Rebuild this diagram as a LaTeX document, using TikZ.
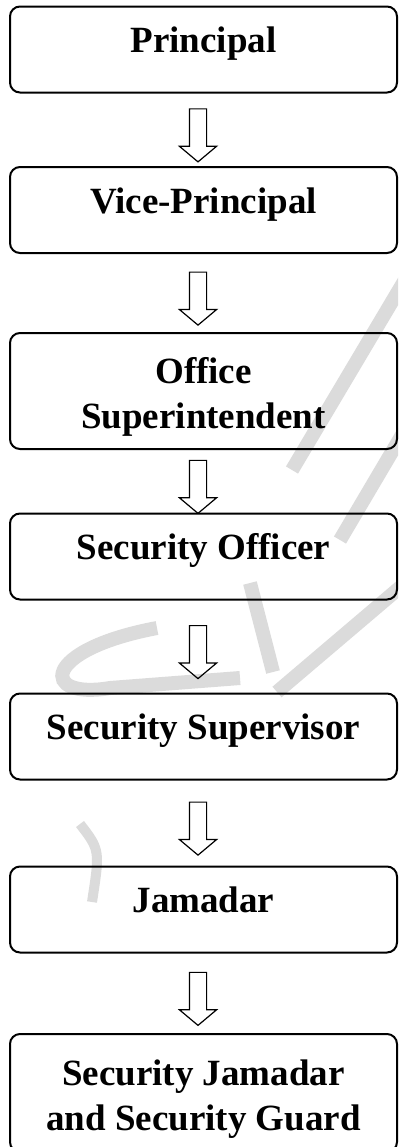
\documentclass[tikz,border=0pt]{standalone}
\usepackage{fontspec}
\setmainfont{Liberation Serif}
\usetikzlibrary{shapes.arrows,calc}
\begin{document}
\begin{tikzpicture}[x=0.5pt,y=-0.5pt]
\tikzset{
  post/.style={draw,shape=rectangle,rounded corners=5pt,line width=1pt,minimum width=193.5pt,minimum height=43pt,inner sep=0pt,align=center,font=\fontsize{18.5}{22.5}\selectfont\bfseries},
  onerow/.style={text height=0.68em,text depth=0.38em},
  tworow/.style={minimum height=58pt},
  flow/.style={draw,shape=single arrow,xshift=-2.75pt,yshift=-1pt,rotate=-90,line width=0.6pt,minimum height=26.5pt,minimum width=18pt,inner sep=4pt,single arrow head extend=5pt,single arrow tip angle=100},
  wmark/.style={draw=gray!28,line width=7pt}
}
\clip (0,0) rectangle (398,1147);
% faint watermark behind the chart
\draw[wmark] (412,268) -- (292,470);
\draw[wmark] (412,418) -- (340,540);
\draw[wmark] (404,584) -- (277,692);
\draw[wmark] (250,583) -- (273,672);
\draw[wmark] (157,628) .. controls (40,650) and (40,700) .. (110,688) -- (240,678);
\draw[wmark,line width=5pt] (80,824) .. controls (100,850) .. (92,902);
\node[post,onerow] (principal) at (203.5,49.5) {Principal};
\node[post,onerow] (viceprincipal) at (203.5,210) {Vice-Principal};
\node[post,tworow] (office) at (203.5,391) {\rule{0pt}{1em}Office\\Superintendent};
\node[post,onerow] (officer) at (203.5,556.5) {Security Officer};
\node[post,onerow] (supervisor) at (203.5,736.5) {Security Supervisor};
\node[post,onerow] (jamadar) at (203.5,909.5) {Jamadar};
\node[post,tworow,minimum height=59pt] (guard) at (203.5,1093) {\rule{0pt}{1em}Security Jamadar\\and Security Guard};
\node[flow] (a1) at ($(principal.south)!.5!(viceprincipal.north)$) {};
\node[flow] (a2) at ($(viceprincipal.south)!.5!(office.north)$) {};
\node[flow] (a3) at ($(office.south)!.5!(officer.north)$) {};
\node[flow] (a4) at ($(officer.south)!.5!(supervisor.north)$) {};
\node[flow] (a5) at ($(supervisor.south)!.5!(jamadar.north)$) {};
\node[flow] (a6) at ($(jamadar.south)!.5!(guard.north)$) {};
\end{tikzpicture}
\end{document}
